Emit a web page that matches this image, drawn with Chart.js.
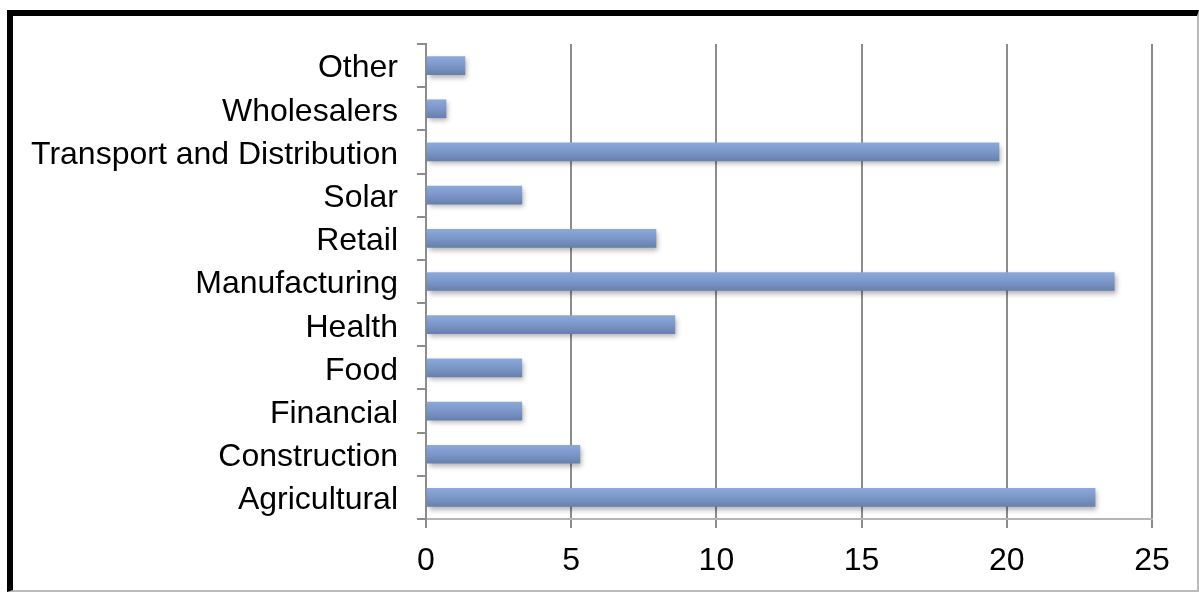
<!DOCTYPE html>
<html>
<head>
<meta charset="utf-8">
<script src="https://cdn.jsdelivr.net/npm/chart.js@4/dist/chart.umd.min.js"></script>
<style>
  html, body { margin: 0; padding: 0; background: #fff; }
  #frame {
    position: absolute; left: 7px; top: 10px; width: 1184px; height: 574px;
    border-top: 6px solid #000; border-left: 6px solid #000;
    border-right: 2px solid #bbb; border-bottom: 2px solid #bbb;
  }
  #wrap { position: absolute; left: 0; top: 0; width: 1199px; height: 592px; }
</style>
</head>
<body>
<div id="frame"></div>
<div id="wrap"><canvas id="chart"></canvas></div>
<script>
// bottom-to-top, as in the original sheet
const sectors = [
  "Agricultural", "Construction", "Financial", "Food", "Health",
  "Manufacturing", "Retail", "Solar", "Transport and Distribution",
  "Wholesalers", "Other"
];
const shares = [23.04, 5.3, 3.3, 3.3, 8.57, 23.7, 7.92, 3.3, 19.73, 0.69, 1.34];
const xTicks = [0, 5, 10, 15, 20, 25];

const BAR_H = 18;
const FONT = "Liberation Sans, Arial, sans-serif";

const barFill = (c) => {
  const chart = c.chart;
  const y = chart.scales && chart.scales.y;
  if (!chart.chartArea || !y) return "#7a95c6";
  const mid = y.getPixelForValue(c.dataIndex);
  const g = chart.ctx.createLinearGradient(0, mid - BAR_H / 2, 0, mid + BAR_H / 2);
  g.addColorStop(0, "#8ca8d9");
  g.addColorStop(0.5, "#7b96c8");
  g.addColorStop(1, "#6780ad");
  return g;
};

const barShadow = {
  id: "barShadow",
  beforeDatasetsDraw(chart) {
    const ctx = chart.ctx;
    ctx.save();
    ctx.shadowColor = "rgba(0,0,0,0.3)";
    ctx.shadowBlur = 5;
    ctx.shadowOffsetX = 2;
    ctx.shadowOffsetY = 3;
  },
  afterDatasetsDraw(chart) {
    chart.ctx.restore();
  }
};

new Chart(document.getElementById("chart"), {
  type: "bar",
  data: {
    labels: sectors,
    datasets: [{
      data: shares,
      backgroundColor: barFill,
      borderWidth: 0,
      barThickness: BAR_H
    }]
  },
  options: {
    indexAxis: "y",
    responsive: true,
    maintainAspectRatio: false,
    animation: false,
    layout: { padding: { left: 10, right: 47, top: 44, bottom: 0 } },
    plugins: { legend: { display: false }, tooltip: { enabled: false } },
    scales: {
      x: {
        min: 0, max: 25,
        afterBuildTicks: (s) => { s.ticks = xTicks.map(v => ({ value: v })); },
        afterFit: (s) => { s.height = 73; },
        grid: { color: "#8c8c8c", lineWidth: 2, tickLength: 9 },
        border: { color: "#b5b5b5", width: 2 },
        ticks: {
          color: "#000", padding: 14, maxRotation: 0,
          font: { family: FONT, size: 32 }
        }
      },
      y: {
        reverse: true,
        afterFit: (s) => { s.width = 416; },
        grid: { drawOnChartArea: false, color: "#8c8c8c", lineWidth: 2, tickLength: 9 },
        border: { color: "#8c8c8c", width: 2 },
        ticks: {
          color: "#000", padding: 19, autoSkip: false, labelOffset: 3,
          font: { family: FONT, size: 32 }
        }
      }
    }
  },
  plugins: [barShadow]
});
</script>
</body>
</html>
